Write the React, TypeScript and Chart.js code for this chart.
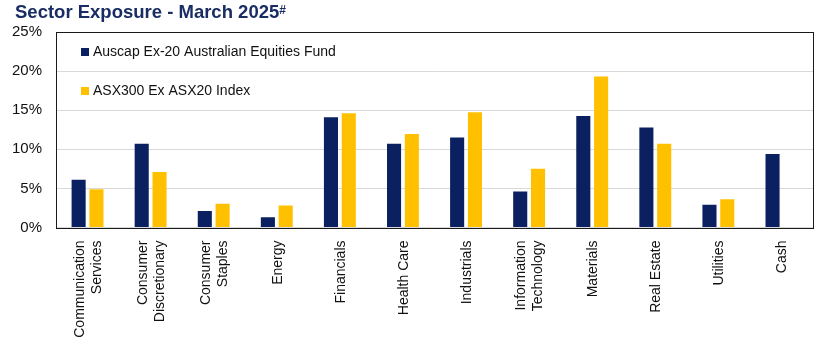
import React, { useEffect, useRef } from "react";
import { Chart, registerables } from "chart.js";

Chart.register(...registerables);

const categories: (string | string[])[] = [
  ["Communication", "Services"],
  ["Consumer", "Discretionary"],
  ["Consumer", "Staples"],
  "Energy",
  "Financials",
  "Health Care",
  "Industrials",
  ["Information", "Technology"],
  "Materials",
  "Real Estate",
  "Utilities",
  "Cash",
];

const fundValues = [6.1, 10.7, 2.1, 1.3, 14.1, 10.7, 11.5, 4.6, 14.25, 12.8, 2.9, 9.4];
const indexValues = [4.9, 7.1, 3.05, 2.8, 14.6, 11.95, 14.75, 7.5, 19.3, 10.7, 3.6, 0];

const seriesNames = ["Auscap Ex-20 Australian Equities Fund", "ASX300 Ex ASX20 Index"];
const seriesColors = ["#0b2060", "#ffc000"];
const yTicks = [0, 5, 10, 15, 20, 25];

const FONT = "Arial, 'Liberation Sans', sans-serif";

const boxAndLegend = {
  id: "boxAndLegend",
  afterDraw(chart: any) {
    const { ctx, chartArea } = chart;
    ctx.save();
    ctx.strokeStyle = "#1a1a1a";
    ctx.lineWidth = 1;
    ctx.strokeRect(
      Math.round(chartArea.left) + 0.5,
      Math.round(chartArea.top) + 0.5,
      Math.round(chartArea.right - chartArea.left),
      Math.round(chartArea.bottom - chartArea.top)
    );
    // legend inside plot area
    ctx.font = `14px ${FONT}`;
    ctx.textBaseline = "middle";
    chart.data.datasets.forEach((ds: any, i: number) => {
      const y = chartArea.top + 20 + i * 39;
      const x = chartArea.left + 25;
      ctx.fillStyle = ds.backgroundColor;
      ctx.fillRect(x, y - 4, 8, 8);
      ctx.fillStyle = "#111";
      ctx.textAlign = "left";
      ctx.fillText(ds.label, x + 12, y + 0.5);
    });
    // rotated category labels, lines centred on tick
    const xs = chart.scales.x;
    const lh = 17;
    ctx.font = `14px ${FONT}`;
    ctx.fillStyle = "#111";
    ctx.textAlign = "right";
    ctx.textBaseline = "middle";
    chart.data.labels.forEach((lab: any, i: number) => {
      const lines = Array.isArray(lab) ? lab : [lab];
      const px = xs.getPixelForTick(i);
      const n = lines.length;
      lines.forEach((ln: string, j: number) => {
        const off = (j - (n - 1) / 2) * lh + 1;
        ctx.save();
        ctx.translate(px + off, chartArea.bottom + 13);
        ctx.rotate(-Math.PI / 2);
        ctx.fillText(ln, 0, 0);
        ctx.restore();
      });
    });
    ctx.restore();
  },
};

export default function App() {
  const ref = useRef<HTMLCanvasElement>(null);
  useEffect(() => {
    if (!ref.current) return;
    const chart = new Chart(ref.current, {
      type: "bar",
      data: {
        labels: categories,
        datasets: [
          {
            label: seriesNames[0],
            data: fundValues,
            backgroundColor: seriesColors[0],
            categoryPercentage: 0.565,
            barPercentage: 0.79,
          },
          {
            label: seriesNames[1],
            data: indexValues,
            backgroundColor: seriesColors[1],
            categoryPercentage: 0.565,
            barPercentage: 0.79,
          },
        ],
      },
      options: {
        animation: false,
        responsive: false,
        maintainAspectRatio: false,
        layout: { padding: { top: 32, right: 7, left: 0, bottom: 0 } },
        plugins: {
          legend: { display: false },
          tooltip: { enabled: false },
        },
        scales: {
          x: {
            grid: { display: false, drawTicks: false },
            border: { display: false },
            ticks: { display: false, autoSkip: false },
            afterFit: (s: any) => {
              s.height = 123.5;
            },
          },
          y: {
            min: 0,
            max: 25,
            afterBuildTicks: (s: any) => {
              s.ticks = yTicks.map((v) => ({ value: v }));
            },
            grid: { color: "#d9d9d9", drawTicks: false, lineWidth: 1 },
            border: { display: false },
            ticks: {
              color: "#111",
              font: { family: FONT, size: 15 },
              padding: 14,
              callback: (v: any) => `${v}%`,
            },
            afterFit: (s: any) => {
              s.width = 56;
            },
          },
        },
      },
      plugins: [boxAndLegend],
    });
    return () => chart.destroy();
  }, []);

  return (
    <div style={{ position: "absolute", left: 0, top: 0, width: 820, height: 351, background: "#fff" }}>
      <canvas ref={ref} width={820} height={351} style={{ position: "absolute", left: 0, top: 0 }} />
      <div
        style={{
          position: "absolute",
          left: 15,
          top: 1,
          fontFamily: FONT,
          fontWeight: "bold",
          fontSize: 18.5,
          color: "#1a2c64",
          whiteSpace: "nowrap",
          lineHeight: "22px",
        }}
      >
        Sector Exposure - March 2025
        <sup style={{ fontSize: 12, verticalAlign: "top", position: "relative", top: -2 }}>#</sup>
      </div>
    </div>
  );
}
